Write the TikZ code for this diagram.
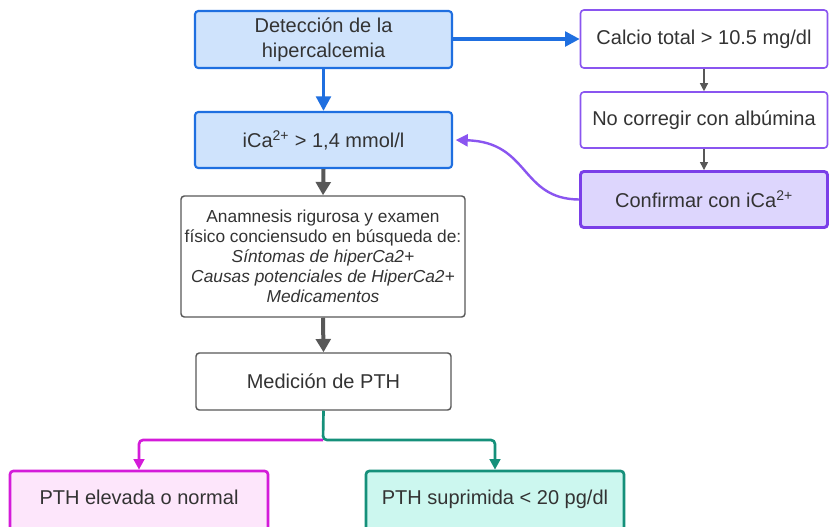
\documentclass[tikz,border=0pt]{standalone}
\usepackage{fontspec}
\setmainfont{Liberation Sans}
\usetikzlibrary{arrows.meta}
\definecolor{bluebd}{HTML}{1F6FE0}
\definecolor{bluefl}{HTML}{CFE3FC}
\definecolor{purbd}{HTML}{8A55F0}
\definecolor{purfl}{HTML}{DDD6FD}
\definecolor{purdk}{HTML}{7A3FE8}
\definecolor{graybd}{HTML}{585858}
\definecolor{magbd}{HTML}{D41BD9}
\definecolor{magfl}{HTML}{FDE6FB}
\definecolor{tealbd}{HTML}{15907A}
\definecolor{tealfl}{HTML}{CCF7EF}
\definecolor{txt}{HTML}{333333}
\tikzset{
  px/.style={x=0.75pt,y=-0.75pt},
  box/.style={rectangle, rounded corners=2.5pt, align=center, text=txt,
    font=\fontsize{15}{18.7}\selectfont, inner sep=0pt},
  bluebox/.style={box, draw=bluebd, fill=bluefl, line width=1.6pt},
  purbox/.style={box, draw=purbd, fill=white, line width=1.2pt},
  confbox/.style={box, draw=purdk, fill=purfl, line width=2.2pt},
  graybox/.style={box, draw=graybd, fill=white, line width=1.1pt},
  magbox/.style={box, draw=magbd, fill=magfl, line width=2pt},
  tealbox/.style={box, draw=tealbd, fill=tealfl, line width=2pt},
  bluearr/.style={draw=bluebd, line width=2.6pt, -{Triangle[length=11pt,width=11pt]}},
  grayarr/.style={draw=graybd, line width=3pt, -{Triangle[length=10pt,width=11pt]}},
  thinarr/.style={draw=graybd, line width=1pt, -{Triangle[length=6pt,width=6pt]}},
  purarr/.style={draw=purbd, line width=1.8pt, -{Triangle[length=9pt,width=9pt]}},
  magarr/.style={draw=magbd, line width=2pt, rounded corners=3pt, -{Triangle[length=8pt,width=8pt]}},
  tealarr/.style={draw=tealbd, line width=2pt, rounded corners=3pt, -{Triangle[length=8pt,width=8pt]}},
}
\begin{document}
\begin{tikzpicture}[px]
\useasboundingbox (0,0) rectangle (829,526);
\clip (0,0) rectangle (829,526);
\fill[white] (0,0) rectangle (829,526);
\node[bluebox, minimum width=257*0.75pt, minimum height=57*0.75pt] (det) at (323.5,39.5) {Detección de la\\hipercalcemia};
\node[bluebox, minimum width=257*0.75pt, minimum height=56*0.75pt] (ica) at (323.5,140) {iCa\textsuperscript{2+} > 1,4 mmol/l};
\node[purbox, minimum width=247*0.75pt, minimum height=58*0.75pt] (cal) at (704,39) {Calcio total > 10.5 mg/dl};
\node[purbox, minimum width=247*0.75pt, minimum height=56*0.75pt] (noc) at (704,120) {No corregir con albúmina};
\node[confbox, minimum width=247*0.75pt, minimum height=56*0.75pt] (conf) at (704,199.5) {Confirmar con iCa\textsuperscript{2+}};
\node[graybox, minimum width=284*0.75pt, minimum height=121*0.75pt, font=\fontsize{13}{15}\selectfont] (anam) at (323,256.5)
  {Anamnesis rigurosa y examen\\físico conciensudo en búsqueda de:\\\textit{Síntomas de hiperCa2+}\\\textit{Causas potenciales de HiperCa2+}\\\textit{Medicamentos}};
\node[graybox, minimum width=255*0.75pt, minimum height=57*0.75pt] (med) at (323.5,381.5) {Medición de PTH};
\node[magbox, minimum width=258*0.75pt, minimum height=76*0.75pt, text height=11pt, text depth=18pt] (elev) at (139,509) {PTH elevada o normal};
\node[tealbox, minimum width=258*0.75pt, minimum height=76*0.75pt, text height=11pt, text depth=18pt] (supr) at (495,509) {PTH suprimida < 20 pg/dl};
\coordinate (br) at (323,440);
\draw[bluearr] (det.east |- cal.west) -- (cal.west);
\draw[bluearr] (det.south) -- (ica.north);
\draw[grayarr] (ica.south) -- (anam.north);
\draw[grayarr] (anam.south) -- (med.north);
\draw[thinarr] (cal.south) -- (noc.north);
\draw[thinarr] (noc.south) -- (conf.north);
\draw[purarr] (conf.west) .. controls (520,199) and (530,142) .. ([xshift=2pt]ica.east);
\draw[magarr] (br) -| (elev.north);
\draw[tealarr] (med.south) -- (br) -| (supr.north);
\end{tikzpicture}
\end{document}
